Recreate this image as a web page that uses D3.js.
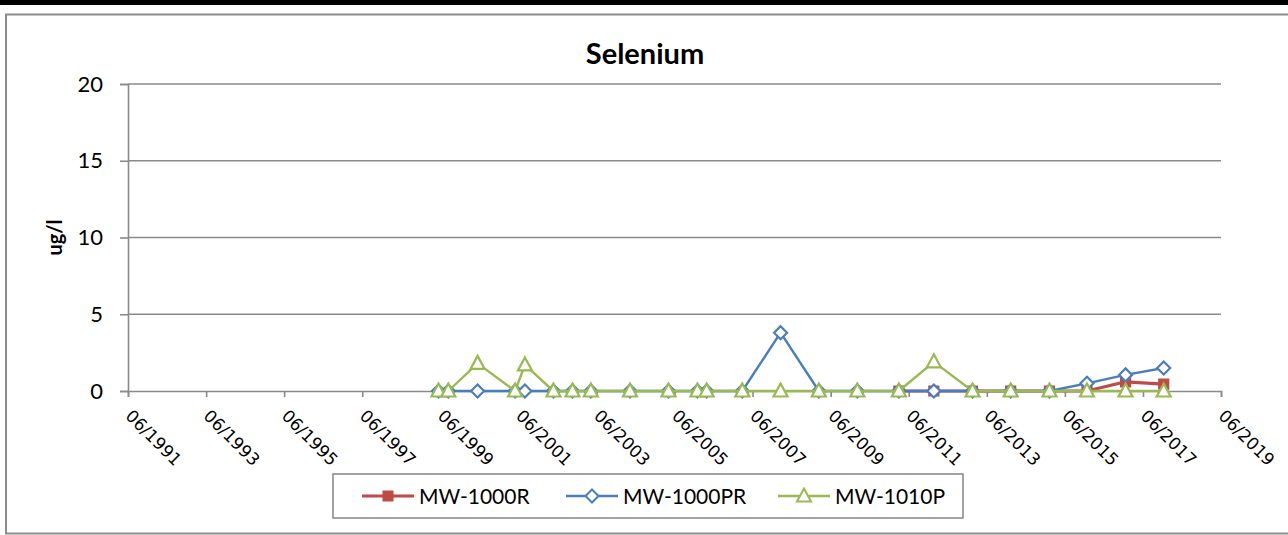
<!DOCTYPE html>
<html>
<head>
<meta charset="utf-8">
<script src="https://cdn.jsdelivr.net/npm/d3@7"></script>
<style>
  body { margin: 0; background: #fff; }
</style>
</head>
<body>
<svg id="chart" width="1288" height="535"></svg>
<script>
// sample dates
var sampleDates = ["1999-05-15", "1999-08-15", "2000-05-15", "2001-05-01", "2001-08-01",
                   "2002-04-25", "2002-10-20", "2003-04-10", "2004-04-10", "2005-04-05",
                   "2006-01-01", "2006-03-28", "2007-02-25", "2008-02-18", "2009-02-10",
                   "2010-02-05", "2011-03-01", "2012-01-22", "2013-01-18", "2014-01-10",
                   "2015-01-08", "2015-12-25", "2016-12-20", "2017-12-12"]

var mw1000r  = [null, null, null, null, null, null, null, null, null, null, null, null,
                null, null, null, null, 0, 0, 0, 0, 0, 0, 0.6, 0.45]
var mw1000pr = [0, 0, 0, 0, 0, 0, 0, 0, 0, 0, 0, 0,
                0, 3.8, 0, 0, 0, 0, 0, 0, 0, 0.5, 1.05, 1.5]
var mw1010p  = [0, 0, 1.8, 0, 1.7, 0, 0, 0, 0, 0, 0, 0,
                0, 0, 0, 0, 0, 1.9, 0, 0, 0, 0, 0, 0]

var seriesNames = ["MW-1000R", "MW-1000PR", "MW-1010P"]
var xTickLabels = ["06/1991", "06/1993", "06/1995", "06/1997", "06/1999", "06/2001", "06/2003",
                   "06/2005", "06/2007", "06/2009", "06/2011", "06/2013", "06/2015", "06/2017", "06/2019"]
var yTicks = [0, 5, 10, 15, 20]

var dimensions = {
    width: 1288,
    height: 535,
    margin: { top: 84, bottom: 144, left: 128, right: 67 }
}

var parseDate = d3.timeParse("%Y-%m-%d")
var parseTick = d3.timeParse("%m/%Y")

var styles = [
    { color: "#BE4B48", width: 3.2, marker: "square" },
    { color: "#4A7EBB", width: 2.4, marker: "diamond" },
    { color: "#98B954", width: 2.4, marker: "triangle" }
]

var seriesValues = [mw1000r, mw1000pr, mw1010p]
var series = seriesNames.map((name, i) => ({
    name: name,
    style: styles[i],
    points: sampleDates.map((d, j) => ({ date: parseDate(d), value: seriesValues[i][j] }))
                       .filter(p => p.value != null)
}))

var svg = d3.select("#chart")

// black strip at the very top and the chart frame
svg.append("rect").attr("x", 0).attr("y", 0).attr("width", dimensions.width).attr("height", 5).attr("fill", "#000")
svg.append("rect")
   .attr("x", 6).attr("y", 14.5).attr("width", 1300).attr("height", 519)
   .attr("fill", "none").attr("stroke", "#8c8c8c").attr("stroke-width", 2)

var xScale = d3.scaleTime()
               .domain([parseTick(xTickLabels[0]), parseTick(xTickLabels[xTickLabels.length - 1])])
               .range([dimensions.margin.left, dimensions.width - dimensions.margin.right])

var yScale = d3.scaleLinear()
               .domain([0, 20])
               .range([dimensions.height - dimensions.margin.bottom, dimensions.margin.top])

// gridlines
svg.append("g")
   .selectAll("line")
   .data(yTicks.filter(t => t > 0))
   .enter()
   .append("line")
   .attr("x1", dimensions.margin.left)
   .attr("x2", dimensions.width - dimensions.margin.right)
   .attr("y1", d => yScale(d))
   .attr("y2", d => yScale(d))
   .attr("stroke", "#8a8a8a")
   .attr("stroke-width", 1.6)

// y axis
var yAxisGen = d3.axisLeft(yScale).tickValues(yTicks).tickSize(8).tickPadding(17)
var yAxis = svg.append("g")
               .attr("transform", `translate(${dimensions.margin.left},0)`)
               .call(yAxisGen)
yAxis.select(".domain").attr("stroke", "#8a8a8a").attr("stroke-width", 1.6)
yAxis.selectAll(".tick line").attr("stroke", "#8a8a8a").attr("stroke-width", 1.6)
yAxis.selectAll(".tick text")
     .style("font-family", "Lato, 'Open Sans', sans-serif")
     .style("font-size", "22px")
     .attr("fill", "#000")

// x axis
var xAxisGen = d3.axisBottom(xScale)
                 .tickValues(xTickLabels.map(parseTick))
                 .tickFormat(d3.timeFormat("%m/%Y"))
                 .tickSize(6)
var xAxis = svg.append("g")
               .attr("transform", `translate(0,${yScale(0)})`)
               .call(xAxisGen)
xAxis.select(".domain").attr("stroke", "#8a8a8a").attr("stroke-width", 1.6)
xAxis.selectAll(".tick line").attr("stroke", "#8a8a8a").attr("stroke-width", 1.6)
xAxis.selectAll(".tick text")
     .attr("text-anchor", "start")
     .attr("dy", null)
     .attr("y", 0)
     .attr("transform", "translate(-4,26) rotate(45)")
     .style("font-family", "'DejaVu Sans', sans-serif")
     .style("font-size", "17px")
     .attr("fill", "#000")

// markers
function markerPath(type) {
    if (type === "square") return "M-4.5,-4.5h9v9h-9Z"
    if (type === "diamond") return "M0,-6.5L6.5,0L0,6.5L-6.5,0Z"
    return "M0,-7.5L7,5.5L-7,5.5Z"
}

var line = d3.line()
             .x(d => xScale(d.date))
             .y(d => yScale(d.value))

series.forEach(s => {
    var g = svg.append("g")
    g.append("path")
     .attr("d", line(s.points))
     .attr("fill", "none")
     .attr("stroke", s.style.color)
     .attr("stroke-width", s.style.width)
     .attr("stroke-linejoin", "round")
    g.selectAll(".marker")
     .data(s.points)
     .enter()
     .append("path")
     .attr("class", "marker")
     .attr("d", markerPath(s.style.marker))
     .attr("transform", d => `translate(${xScale(d.date)},${yScale(d.value)})`)
     .attr("fill", s.style.marker === "square" ? s.style.color : "#fff")
     .attr("stroke", s.style.color)
     .attr("stroke-width", 2.2)
})

// title and axis label
svg.append("text")
   .text("Selenium")
   .attr("x", 645)
   .attr("y", 64)
   .attr("text-anchor", "middle")
   .style("font-family", "Lato, sans-serif")
   .style("font-weight", "bold")
   .style("font-size", "29px")

svg.append("text")
   .text("ug/l")
   .attr("transform", `translate(62,${(yScale(0) + yScale(20)) / 2}) rotate(-90)`)
   .attr("text-anchor", "middle")
   .style("font-family", "Lato, sans-serif")
   .style("font-weight", "bold")
   .style("font-size", "20px")

// legend
var legend = svg.append("g")
legend.append("rect")
      .attr("x", 333).attr("y", 474).attr("width", 630).attr("height", 44)
      .attr("fill", "#fff").attr("stroke", "#8c8c8c").attr("stroke-width", 1.6)

var legendX = [362, 566, 778]
series.forEach((s, i) => {
    var item = legend.append("g").attr("transform", `translate(${legendX[i]},496)`)
    item.append("line")
        .attr("x1", 0).attr("x2", 52).attr("y1", 0).attr("y2", 0)
        .attr("stroke", s.style.color).attr("stroke-width", s.style.width)
    item.append("path")
        .attr("d", markerPath(s.style.marker))
        .attr("transform", "translate(26,0)")
        .attr("fill", s.style.marker === "square" ? s.style.color : "#fff")
        .attr("stroke", s.style.color)
        .attr("stroke-width", 2)
    item.append("text")
        .text(s.name)
        .attr("x", 57)
        .attr("y", 7.5)
        .style("font-family", "Lato, sans-serif")
        .style("font-size", "21px")
})
</script>
</body>
</html>
